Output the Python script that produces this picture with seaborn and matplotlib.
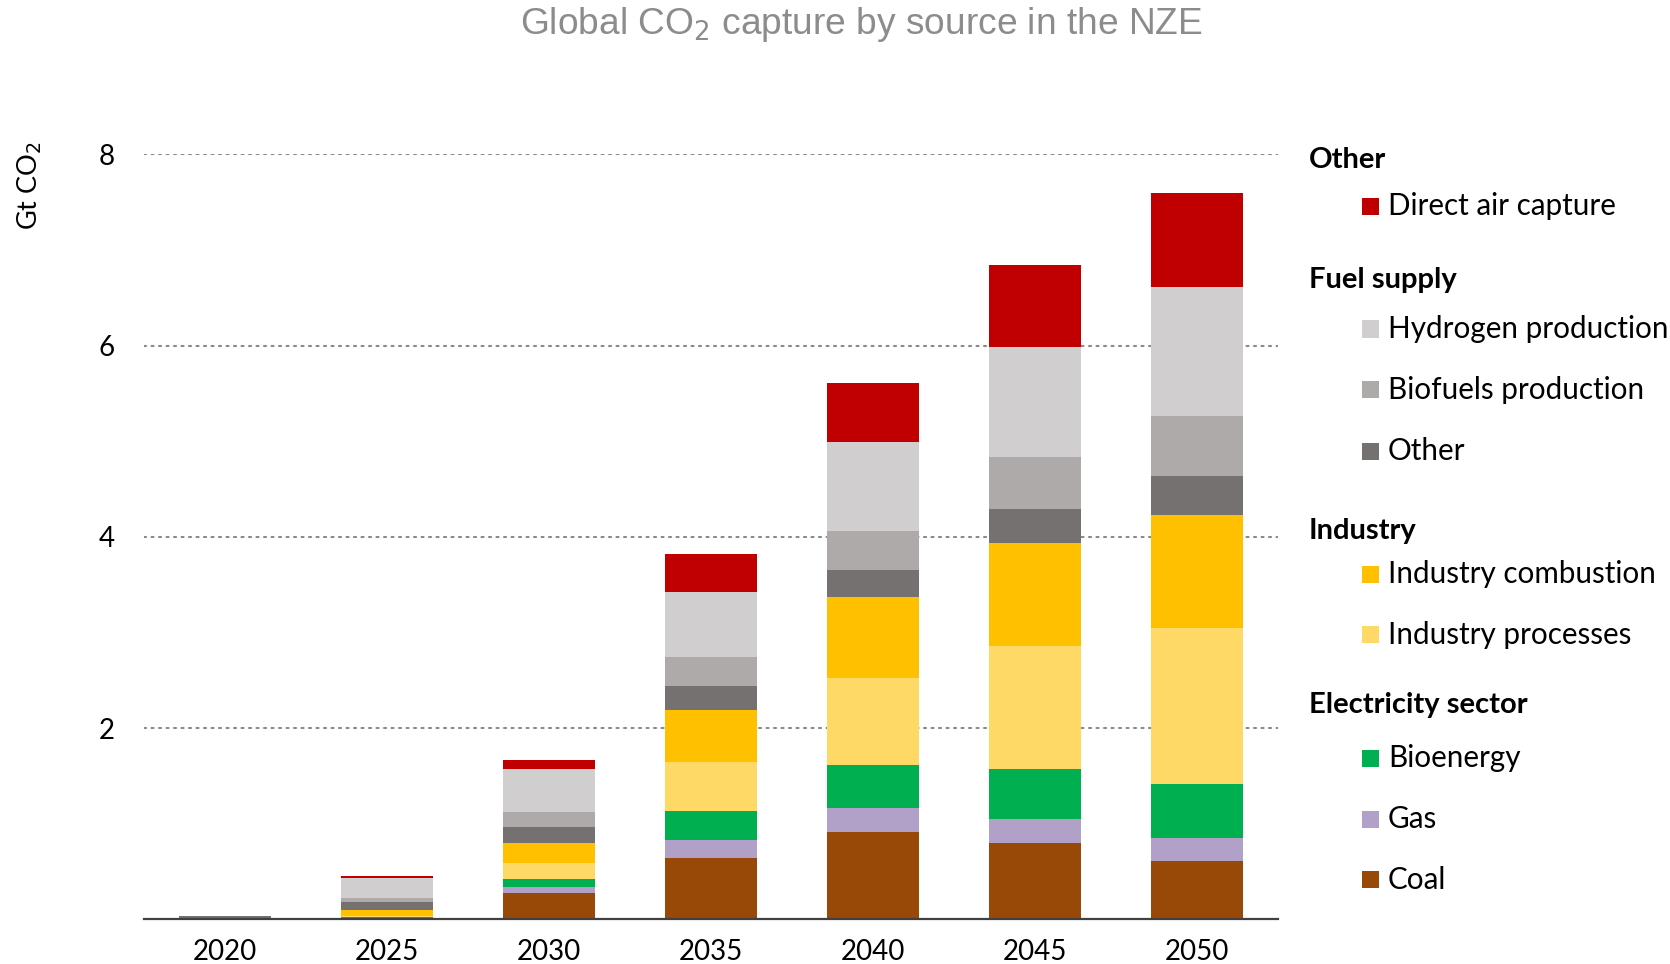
import matplotlib
matplotlib.use("Agg")
import matplotlib.pyplot as plt
import seaborn as sns
import numpy as np
import pandas as pd
from matplotlib.patches import Rectangle

# Years and capture by source (Gt CO2)
years = ["2020", "2025", "2030", "2035", "2040", "2045", "2050"]
coal = [0.0, 0.010, 0.275, 0.645, 0.918, 0.800, 0.615]
gas = [0.0, 0.005, 0.063, 0.185, 0.246, 0.248, 0.240]
bioenergy = [0.0, 0.005, 0.087, 0.300, 0.455, 0.520, 0.565]
industry_processes = [0.0, 0.020, 0.164, 0.515, 0.907, 1.288, 1.630]
industry_combustion = [0.0, 0.056, 0.209, 0.545, 0.840, 1.081, 1.175]
other_fuel = [0.030, 0.090, 0.171, 0.250, 0.291, 0.352, 0.410]
biofuels_production = [0.0, 0.041, 0.153, 0.300, 0.403, 0.547, 0.625]
hydrogen_production = [0.008, 0.207, 0.450, 0.680, 0.929, 1.148, 1.350]
direct_air_capture = [0.0, 0.015, 0.091, 0.400, 0.623, 0.863, 0.980]

series = [
    ("Coal", coal, "#984807"),
    ("Gas", gas, "#B1A0C7"),
    ("Bioenergy", bioenergy, "#00B050"),
    ("Industry processes", industry_processes, "#FFD966"),
    ("Industry combustion", industry_combustion, "#FFC000"),
    ("Other", other_fuel, "#767171"),
    ("Biofuels production", biofuels_production, "#AEAAAA"),
    ("Hydrogen production", hydrogen_production, "#D0CECE"),
    ("Direct air capture", direct_air_capture, "#C00000"),
]

yticks = [2, 4, 6, 8]

sns.set_theme(style="white")
plt.rcParams["font.family"] = ["Lato", "DejaVu Sans"]

fig = plt.figure(figsize=(16.7, 9.64), dpi=100)
ax = fig.add_axes([0.0861, 0.0463, 0.6792, 0.7937])

# Stacked bars: draw cumulative totals from the top layer down
cum = np.cumsum(np.array([s[1] for s in series]), axis=0)
for i in range(len(series) - 1, -1, -1):
    name, _, color = series[i]
    df = pd.DataFrame({"year": years, "value": cum[i]})
    sns.barplot(data=df, x="year", y="value", color=color, width=0.57,
                saturation=1, linewidth=0, ax=ax, zorder=3)

ax.set_xlim(-0.5, 6.5)
ax.set_ylim(0, 8)
ax.set_yticks(yticks)
ax.set_yticklabels([str(t) for t in yticks])
for y in yticks:
    ax.axhline(y, color="#8a8a8a", linewidth=1.5, linestyle=(0, (1, 2.6)),
               dash_capstyle="round", zorder=1)

for side in ["top", "right", "left"]:
    ax.spines[side].set_visible(False)
ax.spines["bottom"].set_color("#404040")
ax.spines["bottom"].set_linewidth(1.6)
ax.spines["bottom"].set_zorder(5)
ax.set_xlabel("")
ax.set_ylabel("")
ax.tick_params(axis="both", length=0, labelsize=20, labelcolor="black")
ax.tick_params(axis="y", pad=21)
ax.tick_params(axis="x", pad=14)

# Title and unit label
fig.text(0.5156, 0.975, "Global CO$_2$ capture by source in the NZE",
         ha="center", va="center", fontsize=26.7, color="#8c8c8c",
         family=["Liberation Sans", "DejaVu Sans"])
fig.text(0.018, 0.8076, "Gt CO$_2$", rotation=90, ha="center", va="center",
         fontsize=19.5, color="black")

# Grouped legend
W, H = 1670.0, 964.0
headers = [("Other", 159.5), ("Fuel supply", 280.0), ("Industry", 531.0),
           ("Electricity sector", 704.5)]
for text, y in headers:
    fig.text(1309 / W, 1 - y / H, text, ha="left", va="center",
             fontsize=21, fontweight="bold", color="black")

entries = [("Direct air capture", 206.5), ("Hydrogen production", 329.0),
           ("Biofuels production", 389.7), ("Other", 451.5),
           ("Industry combustion", 574.0), ("Industry processes", 634.7),
           ("Bioenergy", 758.2), ("Gas", 819.0), ("Coal", 879.6)]
colors = {s[0]: s[2] for s in series}
for text, y in entries:
    c = colors[text]
    fig.patches.append(Rectangle((1362 / W, 1 - (y + 8.5) / H), 17 / W, 17 / H,
                                 transform=fig.transFigure, facecolor=c,
                                 edgecolor="none", figure=fig))
    fig.text(1388 / W, 1 - y / H, text, ha="left", va="center",
             fontsize=21.3, color="black")

fig.savefig("out.png", dpi=100)
